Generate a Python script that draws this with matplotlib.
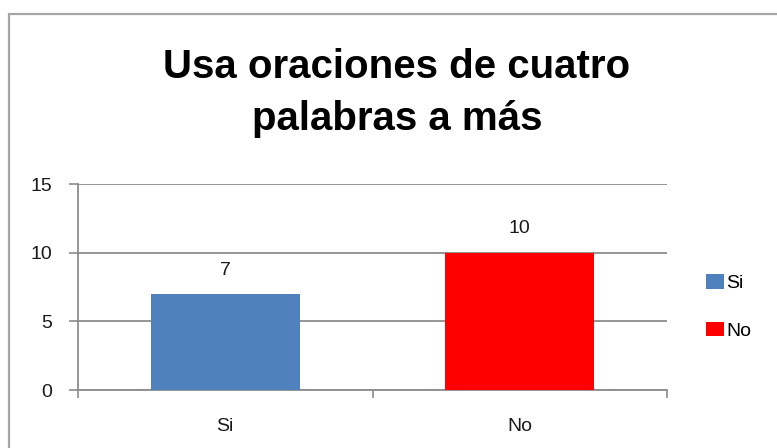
import matplotlib
matplotlib.use("Agg")
import matplotlib.pyplot as plt
from matplotlib.patches import Rectangle

categories = ["Si", "No"]
values = [7, 10]
colors = ["#4F81BD", "#FF0000"]
yticks = [0, 5, 10, 15]
title = "Usa oraciones de cuatro\npalabras a más"

W, H = 777, 448
fig = plt.figure(figsize=(W / 100, H / 100), dpi=100)
fam = ["Liberation Sans Narrow", "Liberation Sans", "DejaVu Sans"]
plt.rcParams["font.family"] = ["Liberation Sans", "DejaVu Sans"]

# outer chart border
fig.patches.append(Rectangle((9 / W, -0.2), 1.2, 1.2 - 14 / H, transform=fig.transFigure,
                             fill=False, edgecolor="#A6A6A6", linewidth=1.6, clip_on=False))

ax = fig.add_axes([78 / W, 1 - 390 / H, (667 - 78) / W, (390 - 184) / H])
x = list(range(len(categories)))
bars = ax.bar(x, values, width=0.505, color=colors, zorder=3)
ax.bar_label(bars, labels=[str(v) for v in values], padding=11, fontsize=14, color="#1a1a1a")

ax.set_xlim(-0.5, len(categories) - 0.5)
ax.set_ylim(0, 15)
ax.set_yticks(yticks)
ax.set_yticklabels([str(t) for t in yticks], fontsize=14, color="#1a1a1a")
ax.set_xticks(x)
ax.set_xticklabels(categories, fontsize=14, color="#1a1a1a")
ax.set_xticks([-0.5, 0.5, 1.5], minor=True)
ax.tick_params(axis="x", which="major", length=0, pad=20)
ax.tick_params(axis="x", which="minor", length=6, width=1.2, color="#8C8C8C", direction="out")
ax.tick_params(axis="y", length=6.5, width=1.2, color="#8C8C8C", pad=12)
ax.grid(axis="y", color="#8C8C8C", linewidth=1.3, zorder=0)
for s in ["top", "right"]:
    ax.spines[s].set_visible(False)
for s in ["left", "bottom"]:
    ax.spines[s].set_color("#8C8C8C")
    ax.spines[s].set_linewidth(1.3)

fig.text(397 / W, 1 - 93 / H, title, ha="center", va="center", fontsize=29,
         fontweight="bold", family=fam, linespacing=1.45)

fig.legend(bars, categories, loc="center left", bbox_to_anchor=(706 / W, 1 - 307 / H),
           frameon=False, fontsize=14, handlelength=0.9, handleheight=0.8,
           handletextpad=0.15, labelspacing=1.5, borderpad=0, borderaxespad=0)

fig.savefig("out.png", dpi=100)
